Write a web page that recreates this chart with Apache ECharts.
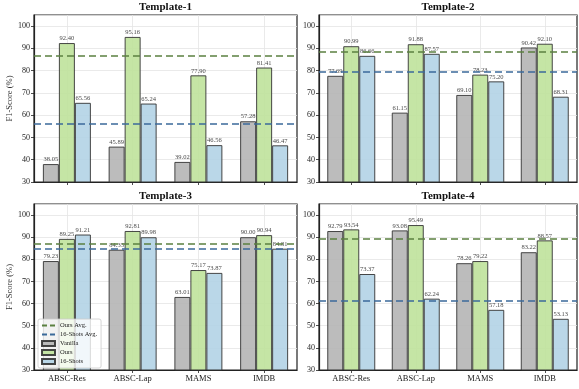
<!DOCTYPE html>
<html>
<head>
<meta charset="utf-8">
<script src="https://cdn.jsdelivr.net/npm/echarts@6/dist/echarts.min.js"></script>
<style>html,body{margin:0;padding:0;background:#fff;}#c{width:579px;height:389px;}</style>
</head>
<body>
<div id="c"></div>
<script>
const categories = ['ABSC-Res', 'ABSC-Lap', 'MAMS', 'IMDB'];
const titles = ['Template-1', 'Template-2', 'Template-3', 'Template-4'];
const vanilla1 = [38.05, 45.89, 39.02, 57.28];
const ours1    = [92.40, 95.16, 77.90, 81.41];
const shots1   = [65.56, 65.24, 46.56, 46.47];
const vanilla2 = [77.69, 61.15, 69.10, 90.42];
const ours2    = [90.99, 91.88, 78.23, 92.10];
const shots2   = [86.66, 87.57, 75.20, 68.31];
const vanilla3 = [79.23, 84.35, 63.01, 90.00];
const ours3    = [89.25, 92.81, 75.17, 90.94];
const shots3   = [91.21, 89.98, 73.87, 84.81];
const vanilla4 = [92.79, 93.08, 78.26, 83.22];
const ours4    = [93.54, 95.49, 79.22, 88.57];
const shots4   = [73.37, 62.24, 57.18, 53.13];

const panels = [
  {v: vanilla1, o: ours1, s: shots1},
  {v: vanilla2, o: ours2, s: shots2},
  {v: vanilla3, o: ours3, s: shots3},
  {v: vanilla4, o: ours4, s: shots4}
];

const FONT = "'Liberation Serif', 'Times New Roman', serif";
const C_VAN = '#b5b5b5', C_OURS = '#bfe29b', C_SHOT = '#b2d3e6';
const C_OAVG = '#5b8040', C_SAVG = '#3b6a9a';

const grids = [
  {left: 34, top: 15, width: 263, height: 167},
  {left: 319, top: 15, width: 258, height: 167},
  {left: 34, top: 204, width: 263, height: 166},
  {left: 319, top: 204, width: 258, height: 166}
];

const option = {
  animation: false,
  backgroundColor: '#fff',
  title: grids.map((g, i) => ({
    text: titles[i],
    left: g.left + g.width / 2,
    textAlign: 'center',
    top: i < 2 ? 2 : 191,
    padding: 0,
    textStyle: {fontFamily: FONT, fontWeight: 'bold', fontSize: 11, color: '#111'}
  })),
  grid: grids.map(g => Object.assign({show: true, borderColor: '#222', borderWidth: 1.2, backgroundColor: 'transparent'}, g)),
  legend: {
    orient: 'vertical',
    left: 38, top: 319,
    padding: [3, 4, 3, 3],
    itemGap: 2,
    itemWidth: 13, itemHeight: 5,
    backgroundColor: 'rgba(255,255,255,0.8)',
    borderColor: '#cccccc', borderWidth: 0.8, borderRadius: 2,
    textStyle: {fontFamily: FONT, fontSize: 6.5, color: '#222', lineHeight: 7},
    data: [
      {name: 'Ours Avg.', itemStyle: {opacity: 0}}, {name: '16-Shots Avg.', itemStyle: {opacity: 0}},
      {name: 'Vanilla', icon: 'rect'}, {name: 'Ours', icon: 'rect'}, {name: '16-Shots', icon: 'rect'}
    ]
  },
  xAxis: grids.map((g, i) => ({
    type: 'category', gridIndex: i, data: categories,
    axisLine: {show: true, lineStyle: {color: '#222', width: 1.2}},
    axisTick: {show: true, alignWithLabel: true, length: 3, lineStyle: {color: '#222', width: 0.8}},
    axisLabel: {show: i >= 2, fontFamily: FONT, fontSize: 8.5, color: '#222', margin: 4},
    splitLine: {show: true, alignWithLabel: true, lineStyle: {color: '#e4e4e4', width: 0.8}}
  })),
  yAxis: grids.map((g, i) => ({
    type: 'value', gridIndex: i, min: 30, max: 105, interval: 10,
    name: (i % 2 === 0) ? 'F1-Score (%)' : '',
    nameLocation: 'middle', nameGap: 17,
    nameTextStyle: {fontFamily: FONT, fontSize: 8.5, color: '#333'},
    axisLine: {show: true, lineStyle: {color: '#222', width: 1.2}},
    axisTick: {show: true, length: 3, lineStyle: {color: '#222', width: 0.8}},
    axisLabel: {fontFamily: FONT, fontSize: 8, color: '#222', margin: 4, showMaxLabel: false},
    splitLine: {show: true, lineStyle: {color: '#e4e4e4', width: 0.8}}
  })),
  series: []
};

function barSeries(name, data, color, i, avgColor) {
  const s = {
    name: name, type: 'bar', xAxisIndex: i, yAxisIndex: i, data: data,
    barWidth: 16, barGap: '0%',
    itemStyle: {color: color, borderColor: '#333', borderWidth: 1, opacity: 0.9},
    label: {show: true, position: 'top', distance: 1, fontFamily: FONT, fontSize: 6.5, color: '#333',
            formatter: p => p.value.toFixed(2)},
    z: 2
  };
  if (avgColor) {
    s.markLine = {
      silent: true, symbol: ['none', 'none'], z: 5,
      label: {show: false},
      lineStyle: {color: avgColor, type: [7, 4], width: 1.6, opacity: 1},
      emphasis: {disabled: true},
      data: [{type: 'average'}]
    };
  }
  return s;
}

panels.forEach((p, i) => {
  option.series.push(barSeries('Vanilla', p.v, C_VAN, i, null));
  option.series.push(barSeries('Ours', p.o, C_OURS, i, C_OAVG));
  option.series.push(barSeries('16-Shots', p.s, C_SHOT, i, C_SAVG));
  option.series.push({name: 'Ours Avg.', type: 'line', xAxisIndex: i, yAxisIndex: i, data: [], symbol: 'none',
    lineStyle: {color: C_OAVG, type: [5, 3], width: 1.5}, itemStyle: {color: C_OAVG}});
  option.series.push({name: '16-Shots Avg.', type: 'line', xAxisIndex: i, yAxisIndex: i, data: [], symbol: 'none',
    lineStyle: {color: C_SAVG, type: [5, 3], width: 1.5}, itemStyle: {color: C_SAVG}});
});

const chart = echarts.init(document.getElementById('c'), null, {renderer: 'canvas'});
chart.setOption(option);
</script>
</body>
</html>
